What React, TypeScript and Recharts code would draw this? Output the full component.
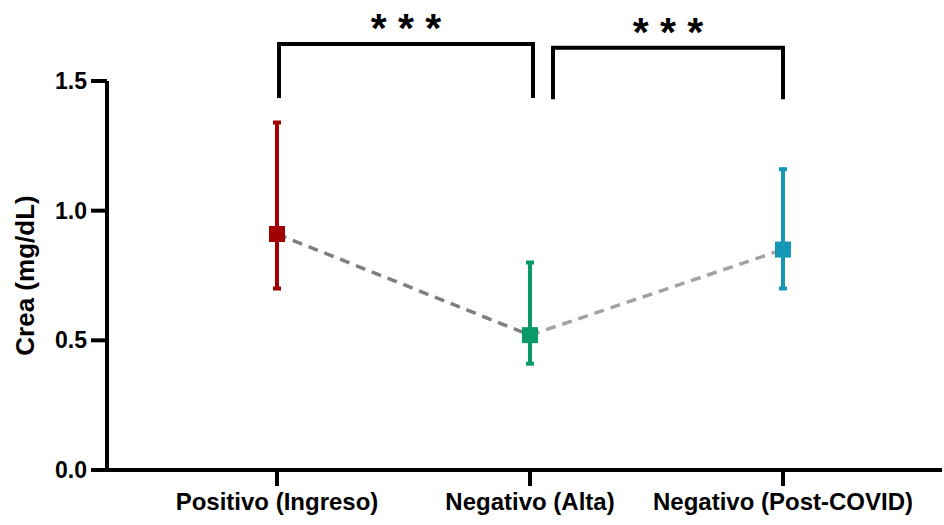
import React from 'react';
import {
  ComposedChart, Scatter, Line, ErrorBar, XAxis, YAxis, ReferenceLine,
} from 'recharts';

const GROUPS = ['Positivo (Ingreso)', 'Negativo (Alta)', 'Negativo (Post-COVID)'];
const MEANS = [0.91, 0.52, 0.85];
const LOWS = [0.70, 0.41, 0.70];
const HIGHS = [1.34, 0.80, 1.16];
const GROUP_COLORS = ['#A00000', '#0A9A68', '#1598B5'];
const Y_TICKS = [0, 0.5, 1.0, 1.5];
const SIG_PAIRS = [[0, 1], [1, 2]];
const SIG_LABELS = ['* * *', '* * *'];

const FONT = '"Liberation Sans", Arial, sans-serif';

// one row per group; each group gets its own scatter key so it can carry its own colour
const chartData = GROUPS.map((name, i) => {
  const row: Record<string, any> = { name };
  GROUPS.forEach((_, j) => {
    row[`m${j}`] = i === j ? MEANS[i] : null;
    row[`e${j}`] = i === j ? [MEANS[i] - LOWS[i], HIGHS[i] - MEANS[i]] : null;
  });
  row.lineA = i <= 1 ? MEANS[i] : null;
  row.lineB = i >= 1 ? MEANS[i] : null;
  return row;
});

const SquareDot = (color: string) => (props: any) => {
  const { cx, cy } = props;
  if (cx == null || cy == null || Number.isNaN(cy)) return <g />;
  return <rect x={cx - 8} y={cy - 8} width={16} height={16} fill={color} />;
};

// bracket geometry tweaks (pixels), legs sit slightly off the category centres
const BRACKET_SHIFT = [
  { left: 2, right: 3, top: 1.643, bottom: 1.434 },
  { left: 23, right: 0, top: 1.628, bottom: 1.43 },
];

const Bracket = (label: string, shift: { left: number; right: number }) => (props: any) => {
  const { x1, y1, x2, y2 } = props;
  const xl = x1 + shift.left;
  const xr = x2 + shift.right;
  return (
    <g>
      <path d={`M${xl},${y2}V${y1}H${xr}V${y2}`} stroke="#000" strokeWidth={4} fill="none" />
      <text
        x={(xl + xr) / 2}
        y={y1 - 2}
        textAnchor="middle"
        fontFamily={FONT}
        fontWeight="bold"
        fontSize={41}
        fill="#000"
      >
        {label}
      </text>
    </g>
  );
};

const tickStyle = { fill: '#000', fontSize: 23, fontWeight: 'bold' as const, fontFamily: FONT };

const App: React.FC = () => {
  return (
    <div style={{ position: 'absolute', left: 0, top: 0, background: '#fff' }}>
      <ComposedChart
        width={944}
        height={525}
        data={chartData}
        margin={{ top: 81, right: 2, bottom: 0, left: 0 }}
      >
        <XAxis
          dataKey="name"
          type="category"
          scale="point"
          padding={{ left: 170, right: 159 }}
          height={55}
          axisLine={{ stroke: '#000', strokeWidth: 4 }}
          tickLine={{ stroke: '#000', strokeWidth: 4 }}
          tickSize={16}
          tickMargin={7}
          tick={{ ...tickStyle, fontSize: 24 }}
          interval={0}
        />
        <YAxis
          type="number"
          domain={[0, 1.5]}
          ticks={Y_TICKS}
          width={107}
          axisLine={{ stroke: '#000', strokeWidth: 4 }}
          tickLine={{ stroke: '#000', strokeWidth: 4 }}
          tickSize={16}
          tickMargin={4}
          tick={tickStyle}
          tickFormatter={(v: number) => v.toFixed(1)}
          label={{
            value: 'Crea (mg/dL)',
            content: (p: any) => {
              const vb = p.viewBox || {};
              const x = (vb.x || 0) + 25;
              const y = (vb.y || 0) + (vb.height || 0) / 2;
              return (
                <text
                  x={x}
                  y={y}
                  transform={`rotate(-90, ${x}, ${y})`}
                  textAnchor="middle"
                  dominantBaseline="central"
                  fontFamily={FONT}
                  fontWeight="bold"
                  fontSize={26}
                  fill="#000"
                >
                  Crea (mg/dL)
                </text>
              );
            },
          }}
        />

        {GROUPS.map((g, i) => (
          <Scatter
            key={g}
            dataKey={`m${i}`}
            fill={GROUP_COLORS[i]}
            shape={SquareDot(GROUP_COLORS[i])}
            isAnimationActive={false}
          >
            <ErrorBar
              dataKey={`e${i}`}
              direction="y"
              width={4}
              strokeWidth={4}
              stroke={GROUP_COLORS[i]}
              isAnimationActive={false}
            />
          </Scatter>
        ))}

        <Line
          dataKey="lineA"
          stroke="#7f7f7f"
          strokeWidth={3.5}
          strokeDasharray="10 7"
          dot={false}
          activeDot={false}
          isAnimationActive={false}
        />
        <Line
          dataKey="lineB"
          stroke="#a2a2a2"
          strokeWidth={3.5}
          strokeDasharray="10 7"
          dot={false}
          activeDot={false}
          isAnimationActive={false}
        />

        {SIG_PAIRS.map(([a, b], k) => (
          <ReferenceLine
            key={k}
            segment={[
              { x: GROUPS[a], y: BRACKET_SHIFT[k].top },
              { x: GROUPS[b], y: BRACKET_SHIFT[k].bottom },
            ]}
            ifOverflow="visible"
            shape={Bracket(SIG_LABELS[k], BRACKET_SHIFT[k])}
          />
        ))}
      </ComposedChart>
    </div>
  );
};

export default App;
